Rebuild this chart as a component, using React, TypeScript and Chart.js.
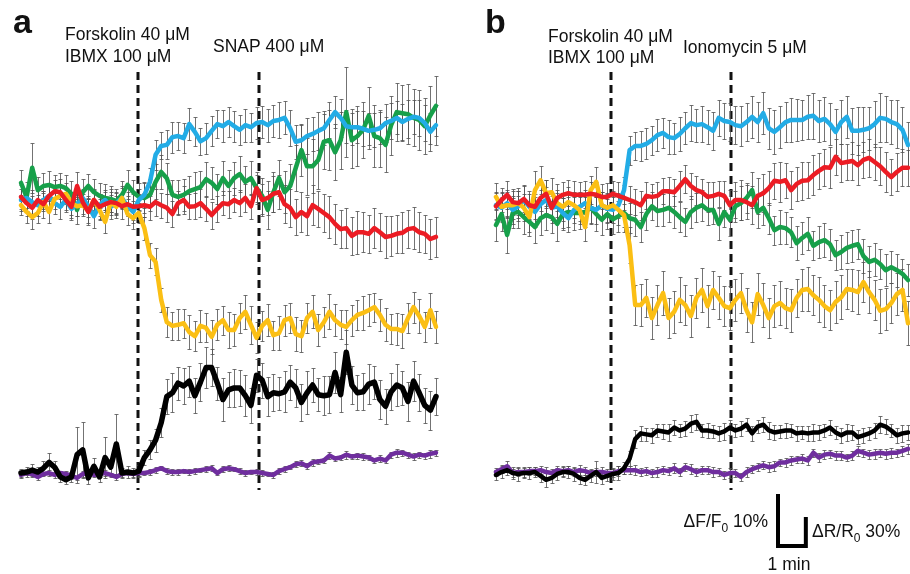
import React, { useEffect, useRef } from "react";
import { Chart, registerables } from "chart.js";

Chart.register(...registerables);

// ---------- time axis (minutes, one frame every 12 s) ----------
const timeMin = [0,0.2,0.4,0.6,0.8,1,1.2,1.4,1.6,1.8,2,2.2,2.4,2.6,2.8,3,3.2,3.4,3.6,3.8,4,4.2,4.4,4.6,4.8,5,5.2,5.4,5.6,5.8,6,6.2,6.4,6.6,6.8,7,7.2,7.4,7.6,7.8,8,8.2,8.4,8.6,8.8,9,9.2,9.4,9.6,9.8,10,10.2,10.4,10.6,10.8,11,11.2,11.4,11.6,11.8,12,12.2,12.4,12.6,12.8,13,13.2,13.4,13.6,13.8,14,14.2,14.4,14.6,14.8];

// stimulus times (min)
const stimA = [4.17, 8.49];
const stimB = [4.13, 8.44];

// ---------- Panel a : ΔF/F0 (%) ----------
const blueA = [0,0.4,-0.4,-1.0,0,0.8,-0.6,-1.3,0,-1.7,-0.8,0.4,-1.2,-3.1,-1.0,0,-1.3,-0.6,0.4,-1.2,-2.3,0,1.0,3.5,8.7,10.4,10.6,12.1,12.3,11.9,14.6,13.1,11.3,11.9,13.3,14.6,14.2,15.0,14.2,13.5,14.4,14.0,14.8,15.0,14.4,15.2,15.4,15.8,13.8,11.2,11.5,12.3,12.7,13.3,13.8,15.4,16.9,15.8,14.2,14.0,14.0,13.7,13.3,13.5,13.8,14.8,15.2,15.8,15.0,15.6,16.0,15.8,14.8,13.1,14.4];
const blueErrA = [2.1,1.9,2.3,2.0,1.8,2.2,2.0,2.4,1.9,2.1,2.3,1.8,2.0,2.2,2.1,1.9,2.3,2.0,2.2,1.9,2.1,2.2,2.5,2.7,2.9,2.6,2.8,3.0,2.7,2.9,3.1,2.8,2.6,3.0,2.9,2.7,3.1,2.8,3.0,2.9,3.2,2.8,3.0,3.0,3.2,3.1,3.4,3.2,3.5,3.3,3.0,3.4,3.2,3.6,3.3,3.4,3.1,3.6,3.2,3.5,3.1,3.4,3.5,3.3,3.1,3.6,3.4,3.2,3.5,3.7,3.3,3.5,3.4,3.6,3.8];

const greenA = [3.3,0.6,6.2,1.9,2.7,2.9,2.5,2.7,2.3,1.2,-1.9,1.5,2.7,1.5,0.8,0.4,0.2,-0.2,1.0,2.9,1.5,0.6,0.4,1.0,3.5,5.4,4.2,1.0,0.6,1.0,1.7,2.1,2.5,4.0,3.3,2.1,4.2,2.7,4.2,5.0,3.5,4.2,2.3,0.8,-1.9,1.5,4.2,1.5,2.7,6.2,9.6,6.5,6.5,7.7,11.2,11.5,9.2,11.5,16.9,11.5,12.3,13.5,16.2,12.3,11.9,10.6,14.4,16.9,16.7,16.5,15.8,15.4,14.2,16.3,18.1];
const greenErrA = [2.5,2.8,4.8,2.6,2.4,2.7,2.3,2.5,2.6,2.4,2.8,2.5,2.3,2.6,2.4,2.7,2.5,2.3,2.6,2.8,2.4,2.6,2.9,3.1,3.4,3.2,3.0,2.8,3.3,3.1,2.9,3.2,3.0,3.4,3.1,2.9,3.3,3.0,3.2,3.5,3.1,3.3,3.0,3.4,3.6,3.8,3.5,4.0,4.2,4.4,5.0,5.5,5.2,5.6,5.3,5.8,5.4,5.5,8.6,5.3,5.7,5.4,5.6,5.9,5.5,5.3,5.7,5.6,5.4,5.8,5.5,5.7,5.4,5.6,5.8];

const redA = [0.6,-0.6,-1.5,0,-0.8,0.8,1.7,1.5,0,-1.3,2.7,-0.4,-2.3,0,-1.3,-0.8,-0.4,-0.6,-1.2,-0.8,-1.3,-1.2,-1.0,-1.3,-0.4,-1.0,-1.5,-2.7,-0.6,0,-1.3,-1.2,-0.6,-1.7,-2.9,-1.7,-0.6,-0.8,0,-0.6,0.4,-1.2,2.3,0,0.4,1.2,1.5,-0.8,-1.5,-3.3,-2.3,-3.1,-1.0,-1.7,-2.5,-3.3,-4.6,-5.6,-5.4,-6.9,-6.2,-6.2,-6.5,-5.4,-6.2,-7.1,-6.9,-6.5,-6.3,-5.6,-5.4,-6.2,-6.5,-7.5,-7.1];
const redErrA = [2.3,2.5,2.2,2.4,2.6,2.3,2.1,2.5,2.4,2.2,2.6,2.3,2.5,2.2,2.4,2.3,2.5,2.2,2.4,2.3,2.5,2.4,2.3,2.5,2.6,2.4,2.7,2.5,2.3,2.6,2.4,2.5,2.7,2.4,2.6,2.5,2.3,2.6,2.4,2.5,2.7,2.4,2.6,3.1,3.3,3.5,3.3,3.6,3.7,3.4,3.8,3.6,3.9,3.5,3.7,4.0,3.8,3.6,3.9,3.7,4.1,3.8,3.6,3.9,3.7,4.0,3.8,3.6,3.9,3.7,4.0,3.8,3.7,3.9,3.8];

const yellowA = [-1.0,-2.3,-3.3,-2.5,-0.4,-2.3,0.2,0.8,1.2,-0.6,-1.2,-1.0,-2.1,0,-1.9,-4.2,-0.4,-1.3,0.4,-2.7,-3.5,-2.5,-5.4,-10.6,-11.9,-19.2,-23.5,-24.2,-24.0,-23.7,-25.4,-26.2,-24.2,-24.6,-26.3,-24.0,-23.1,-25.0,-25.0,-22.7,-21.5,-24.0,-26.5,-24.2,-23.1,-26.0,-25.6,-23.1,-22.7,-25.8,-26.2,-22.7,-21.5,-25.0,-23.5,-21.5,-23.1,-24.0,-24.4,-23.1,-22.1,-21.7,-21.2,-20.6,-22.1,-24.0,-24.8,-24.8,-25.2,-22.7,-20.6,-22.3,-24.4,-21.2,-24.4];
const yellowErrA = [1.9,2.1,2.3,2.0,1.8,2.2,1.9,2.1,2.0,2.2,1.8,2.1,2.3,1.9,2.0,2.2,1.9,2.1,2.0,2.2,2.0,2.0,2.2,2.4,2.6,2.3,2.9,2.7,3.0,2.8,3.2,2.9,3.1,2.8,3.3,3.0,2.8,3.4,3.1,2.9,3.3,3.6,3.0,2.9,3.1,2.8,3.2,3.0,2.9,3.3,3.1,2.8,3.2,3.0,2.9,3.4,3.1,2.8,3.2,3.0,2.9,3.3,3.1,2.8,3.0,3.2,2.9,3.1,3.3,2.8,3.0,3.2,2.9,3.4,3.1];

// ---------- Panel a : ΔR/R0 (%) ----------
const blackA = [1,2,4,2,6,12,7,-3,-6,-3,20,25,-4,8,-3,17,7,31,1,2,1,3,17,25,35,53,80,84,94,91,96,81,95,110,110,94,77,87,89,89,81,71,102,97,80,84,83,85,95,89,74,84,92,82,81,82,105,82,126,92,84,85,93,95,77,70,85,92,89,75,96,84,71,66,80];
const blackErrA = [4,5,6,5,7,10,6,5,4,5,29,29,6,9,5,21,8,31,5,6,5,6,8,10,12,15,18,20,17,19,16,18,20,21,19,17,22,18,20,19,21,18,17,18,20,19,17,21,18,20,19,22,18,17,20,19,21,18,23,20,18,19,21,17,20,18,19,22,18,20,21,19,18,20,19];

const purpleA = [-1,1,0,-3,0,1,-1,1,0,-2,-4,0,1,-1,0,1,-1,-3,0,1,0,1,1,2,4,6,3,2,2,3,2,3,4,5,6,1,5,6,5,3,1,2,2,1,0,-1,3,5,7,10,11,8,12,13,14,19,16,17,20,18,19,18,17,14,16,14,20,22,22,20,18,20,19,21,22];
const purpleErrA = [3,2,3,3,2,3,3,2,3,3,2,3,3,2,3,3,2,3,3,2,3,3,2,3,3,2,3,3,3,2,3,3,2,3,3,2,3,3,2,3,3,2,3,3,2,3,3,3,2,3,3,3,4,3,3,4,3,3,4,3,3,4,3,3,4,3,3,4,3,3,4,3,3,4,3];

// ---------- Panel b : ΔF/F0 (%) ----------
const blueB = [-1.0,-1.5,-0.6,-1.9,-1.2,0,-1.3,-2.3,-0.8,0,-1.5,-1.2,-2.5,-3.5,-1.9,-1.3,-0.6,-1.5,-1.9,-1.0,-1.7,-1.9,-1.0,1.9,9.6,10.4,10.4,10.8,11.5,12.5,12.9,12.1,11.9,12.7,13.8,14.8,14.4,14.6,14.0,13.3,15.8,15.2,15.0,14.4,14.2,15.0,16.0,15.0,16.7,13.8,13.1,14.0,15.0,15.4,15.4,15.4,16.0,16.2,15.2,15.6,14.6,13.1,15.0,16.0,13.3,13.3,13.5,13.8,14.6,15.8,15.6,15.0,14.6,13.5,10.6];
const blueErrB = [2.6,2.8,2.5,2.7,2.9,2.6,2.4,2.8,2.7,2.5,2.9,2.6,2.8,2.7,2.5,2.8,2.6,2.9,2.7,2.5,2.8,2.5,2.4,2.6,2.8,2.7,2.9,3.0,2.8,3.1,2.9,3.2,3.0,3.3,3.1,3.4,3.2,3.5,3.3,3.6,3.4,3.5,3.6,3.7,3.9,3.6,4.0,3.8,4.1,3.9,4.2,4.0,3.8,4.3,4.1,3.9,4.2,4.4,4.0,4.3,4.1,4.5,4.2,4.0,4.4,4.6,4.3,4.1,4.5,4.7,4.4,4.2,4.6,4.3,4.5];

const redB = [-1.2,0,1.0,-0.4,-0.6,0.2,-1.0,-1.3,0.4,1.2,-1.5,0.4,1.0,1.3,1.0,1.0,1.0,1.2,1.0,0.6,0.6,1.2,0.8,0.4,0,-0.4,-1.0,0.8,0.6,0.8,1.7,1.7,1.5,2.7,4.0,2.7,1.9,1.5,0.6,0.8,1.2,0.8,-1.0,0,0,-0.4,-1.0,0.8,1.3,2.3,3.7,3.5,3.8,1.9,3.1,3.7,3.8,4.8,5.6,6.3,6.2,8.3,7.1,7.3,7.5,6.7,7.7,8.1,7.3,6.5,5.4,4.4,5.4,6.2,6.2];
const redErrB = [2.6,2.4,2.7,2.5,2.3,2.6,2.8,2.4,2.5,2.7,2.3,2.6,2.4,2.5,2.7,2.4,2.6,2.3,2.5,2.4,2.6,2.5,2.6,2.4,2.7,2.5,2.8,2.6,2.4,2.7,2.5,2.8,2.6,2.9,2.7,2.5,2.8,2.6,2.9,2.7,2.5,2.8,3.0,3.4,3.8,3.2,3.6,3.4,3.7,3.3,3.5,3.8,3.4,3.6,3.3,3.7,3.5,3.8,3.4,3.6,3.9,3.5,3.7,3.4,3.6,3.8,3.5,3.7,3.4,3.6,3.8,3.5,3.7,3.6,3.5];

const greenB = [-4.8,-2.7,-6.7,-2.5,-2.3,-3.3,-4.2,-5.2,-3.5,-2.9,-3.3,-4.6,-2.7,-2.3,-2.5,-2.5,-2.3,-1.5,-2.7,-3.8,-2.7,-3.7,-3.1,-2.5,-3.5,-3.8,-5.2,-2.7,-1.2,-2.1,-1.9,-1.5,-2.3,-3.3,-4.2,-2.3,-1.5,-1.0,-1.9,-1.9,-4.6,-2.3,-3.8,-1.2,-0.6,0.4,1.9,-2.3,-1.5,-3.5,-5.8,-5.2,-5.4,-6.2,-8.3,-7.3,-6.5,-8.8,-8.1,-7.7,-8.5,-10.6,-10.0,-9.2,-8.8,-8.5,-10.8,-11.9,-11.5,-12.3,-13.5,-12.9,-13.5,-14.2,-15.4];
const greenErrB = [3.0,3.2,3.4,2.9,3.1,3.3,2.8,3.0,3.2,2.9,3.1,3.3,3.0,2.8,3.2,3.0,2.9,3.1,3.3,3.0,2.9,2.8,3.0,2.7,2.9,3.1,2.8,3.0,2.7,2.9,3.1,2.8,3.0,2.9,2.7,3.1,2.8,3.0,2.9,2.8,3.0,2.9,3.1,3.0,3.2,2.9,3.4,3.1,3.3,3.0,2.8,3.2,3.1,2.9,3.3,3.0,3.2,2.8,3.1,3.3,3.0,2.9,3.2,3.0,3.1,2.9,3.3,3.0,3.2,2.9,3.1,3.0,3.2,2.9,3.1];

const yellowB = [0.6,-1.3,-1.0,-1.0,-0.6,-1.5,-3.3,1.9,3.8,1.3,1.5,-0.6,-1.3,-0.4,-1.0,-1.9,-5.2,1.9,3.5,-1.0,-1.5,-1.0,-1.9,-2.9,-8.7,-20.2,-20.2,-18.8,-22.7,-20.2,-17.9,-22.7,-21.5,-19.2,-20.2,-22.3,-18.8,-17.3,-20.4,-17.3,-18.8,-20.4,-20.8,-19.2,-17.9,-21.2,-23.5,-18.1,-20.2,-22.7,-20.4,-19.8,-20.8,-21.2,-18.8,-17.3,-17.1,-18.3,-19.2,-20.4,-21.2,-19.6,-18.7,-17.1,-17.3,-17.7,-15.8,-17.7,-19.2,-21.3,-21.0,-19.8,-18.1,-17.3,-23.7];
const yellowErrB = [2.6,2.8,2.5,2.7,2.9,2.6,2.8,3.6,2.7,2.5,2.8,2.6,2.7,2.9,2.5,2.8,2.6,2.7,2.9,2.6,2.8,2.7,2.9,3.2,3.5,3.8,4.0,3.7,4.1,3.9,4.2,3.8,4.0,4.3,3.9,4.1,3.8,4.2,4.0,3.7,4.1,3.9,4.2,4.0,3.8,4.2,3.9,4.1,4.3,3.8,4.0,4.2,3.9,4.1,3.7,4.0,4.2,3.9,4.3,4.0,3.8,4.1,4.2,3.9,4.0,4.3,3.8,4.1,3.9,4.2,4.0,3.8,4.1,4.0,4.2];

// ---------- Panel b : ΔR/R0 (%) ----------
const blackB = [-1,2,4,1,0,1,1,2,-2,-6,-4,0,2,2,0,-4,-6,-2,2,-4,-2,0,1,6,16,36,42,41,40,45,44,43,48,45,47,52,54,45,45,44,42,44,48,45,47,51,42,49,51,45,43,44,45,45,42,43,42,43,43,45,48,43,40,43,43,38,40,42,45,51,49,45,40,42,43];
const blackErrB = [5,6,5,6,7,5,6,5,6,7,5,6,5,6,7,6,5,6,11,6,5,6,7,6,8,9,8,7,8,7,8,9,8,7,8,9,8,7,8,7,8,9,8,7,8,7,8,7,8,9,8,7,8,7,8,7,8,9,8,7,8,7,8,9,8,7,8,7,8,9,8,7,8,9,8];

const purpleB = [2,5,8,1,2,2,3,3,4,2,1,4,3,4,2,4,3,1,2,2,1,1,3,4,4,4,2,3,1,2,4,3,6,2,7,5,2,4,4,2,2,-1,1,1,-3,2,5,7,9,7,8,12,12,14,15,16,14,22,17,20,21,19,19,17,19,24,22,20,21,22,21,22,22,24,26];
const purpleErrB = [4,4,5,4,4,5,4,4,4,5,4,4,5,4,4,5,4,4,4,5,4,4,5,4,4,5,4,4,4,5,4,4,5,4,4,5,4,4,4,5,4,4,5,4,4,5,4,4,4,5,5,4,5,5,4,5,5,4,5,5,4,5,5,4,5,5,4,5,5,4,5,5,4,5,5];

// ---------- styling ----------
const FONT = "'Liberation Sans', Arial, Helvetica, sans-serif";
const COLORS = {
  red: "#EC1C24",
  yellow: "#FBBF14",
  blue: "#22ACE6",
  green: "#17A04A",
  black: "#000000",
  purple: "#6F2E9E",
};

type Series = {
  label: string;
  color: string;
  values: number[];
  errors: number[];
  axis: "yF" | "yR";
  width: number;
};

type Seg = { t: string; sub?: boolean };
type TextItem = { segs: Seg[]; x: number; y: number; align: "left" | "right" | "center"; size: number; bold?: boolean };

type PanelCfg = {
  left: number;
  padding: { left: number; right: number; top: number; bottom: number };
  stim: number[];
  series: Series[];
  texts: TextItem[];
  scaleBar?: { x: number; y: number; minutes: number; fPct: number; rPct: number };
};

const LABEL_SIZE = 17.5;

// draw order: first dataset ends up on top
const panelA: PanelCfg = {
  left: 0,
  padding: { left: 21, right: 19, top: 72, bottom: 84 },
  stim: stimA,
  series: [
    { label: "red", color: COLORS.red, values: redA, errors: redErrA, axis: "yF", width: 4.5 },
    { label: "yellow", color: COLORS.yellow, values: yellowA, errors: yellowErrA, axis: "yF", width: 4.5 },
    { label: "blue", color: COLORS.blue, values: blueA, errors: blueErrA, axis: "yF", width: 4.5 },
    { label: "green", color: COLORS.green, values: greenA, errors: greenErrA, axis: "yF", width: 4.5 },
    { label: "black", color: COLORS.black, values: blackA, errors: blackErrA, axis: "yR", width: 5.5 },
    { label: "purple", color: COLORS.purple, values: purpleA, errors: purpleErrA, axis: "yR", width: 4.5 },
  ],
  texts: [
    { segs: [{ t: "a" }], x: 13, y: 33, align: "left", size: 34, bold: true },
    { segs: [{ t: "Forskolin 40 \u03BCM" }], x: 65, y: 40, align: "left", size: LABEL_SIZE },
    { segs: [{ t: "IBMX 100 \u03BCM" }], x: 65, y: 62, align: "left", size: LABEL_SIZE },
    { segs: [{ t: "SNAP 400 \u03BCM" }], x: 213, y: 52, align: "left", size: LABEL_SIZE },
  ],
};

const panelB: PanelCfg = {
  left: 455,
  padding: { left: 41, right: 2, top: 72, bottom: 84 },
  stim: stimB,
  series: [
    { label: "red", color: COLORS.red, values: redB, errors: redErrB, axis: "yF", width: 4.5 },
    { label: "yellow", color: COLORS.yellow, values: yellowB, errors: yellowErrB, axis: "yF", width: 4.5 },
    { label: "blue", color: COLORS.blue, values: blueB, errors: blueErrB, axis: "yF", width: 4.5 },
    { label: "green", color: COLORS.green, values: greenB, errors: greenErrB, axis: "yF", width: 4.5 },
    { label: "black", color: COLORS.black, values: blackB, errors: blackErrB, axis: "yR", width: 4.5 },
    { label: "purple", color: COLORS.purple, values: purpleB, errors: purpleErrB, axis: "yR", width: 4.5 },
  ],
  texts: [
    { segs: [{ t: "b" }], x: 30, y: 33, align: "left", size: 34, bold: true },
    { segs: [{ t: "Forskolin 40 \u03BCM" }], x: 93, y: 42, align: "left", size: LABEL_SIZE },
    { segs: [{ t: "IBMX 100 \u03BCM" }], x: 93, y: 63, align: "left", size: LABEL_SIZE },
    { segs: [{ t: "Ionomycin 5 \u03BCM" }], x: 228, y: 53, align: "left", size: LABEL_SIZE },
    { segs: [{ t: "\u0394F/F" }, { t: "0", sub: true }, { t: " 10%" }], x: 313, y: 527, align: "right", size: LABEL_SIZE },
    { segs: [{ t: "\u0394R/R" }, { t: "0", sub: true }, { t: " 30%" }], x: 357, y: 537, align: "left", size: LABEL_SIZE },
    { segs: [{ t: "1 min" }], x: 334, y: 570, align: "center", size: LABEL_SIZE },
  ],
  scaleBar: { x: 323, y: 546, minutes: 1, fPct: 10, rPct: 30 },
};

function drawRich(ctx: CanvasRenderingContext2D, item: TextItem) {
  const weight = item.bold ? "bold " : "";
  const mainFont = `${weight}${item.size}px ${FONT}`;
  const subFont = `${weight}${Math.round(item.size * 0.68)}px ${FONT}`;
  let w = 0;
  for (const s of item.segs) {
    ctx.font = s.sub ? subFont : mainFont;
    w += ctx.measureText(s.t).width;
  }
  let cx = item.align === "left" ? item.x : item.align === "right" ? item.x - w : item.x - w / 2;
  ctx.textAlign = "left";
  ctx.textBaseline = "alphabetic";
  ctx.fillStyle = "#111";
  for (const s of item.segs) {
    ctx.font = s.sub ? subFont : mainFont;
    ctx.fillText(s.t, cx, s.sub ? item.y + item.size * 0.27 : item.y);
    cx += ctx.measureText(s.t).width;
  }
}

// y ranges: ΔF/F0 10% = 52 px, ΔR/R0 30% = 29 px over a 418 px tall plot area
const F_MIN = -55.77;
const F_MAX = 24.62;
const R_MIN = -16.55;
const R_MAX = 415.7;

function buildChart(canvas: HTMLCanvasElement, panel: PanelCfg) {
  const datasets = panel.series.map((s) => ({
    label: s.label,
    data: timeMin.map((t, i) => ({ x: t, y: s.values[i] })),
    borderColor: s.color,
    backgroundColor: s.color,
    borderWidth: s.width,
    pointRadius: 0,
    pointHoverRadius: 0,
    tension: 0,
    fill: false,
    yAxisID: s.axis,
    clip: false as any,
    borderJoinStyle: "round" as const,
    borderCapStyle: "round" as const,
  }));

  const decor = {
    id: "decor",
    beforeDatasetsDraw(chart: any) {
      const ctx: CanvasRenderingContext2D = chart.ctx;
      const { top, bottom } = chart.chartArea;
      const xs = chart.scales.x;
      ctx.save();
      // dashed stimulus lines
      ctx.strokeStyle = "#111";
      ctx.lineWidth = 3;
      ctx.setLineDash([8, 5]);
      for (const t of panel.stim) {
        const px = Math.round(xs.getPixelForValue(t));
        ctx.beginPath();
        ctx.moveTo(px, top);
        ctx.lineTo(px, bottom);
        ctx.stroke();
      }
      ctx.setLineDash([]);
      // error bars
      ctx.strokeStyle = "rgba(80,80,80,0.8)";
      ctx.lineWidth = 1;
      panel.series.forEach((s) => {
        const ys = chart.scales[s.axis];
        timeMin.forEach((t, i) => {
          const v = s.values[i];
          const e = s.errors[i] ?? 0;
          if (v === undefined) return;
          const px = Math.round(xs.getPixelForValue(t)) + 0.5;
          const yT = Math.round(ys.getPixelForValue(v + e)) + 0.5;
          const yB = Math.round(ys.getPixelForValue(v - e)) + 0.5;
          ctx.beginPath();
          ctx.moveTo(px, yT);
          ctx.lineTo(px, yB);
          ctx.moveTo(px - 2, yT);
          ctx.lineTo(px + 2, yT);
          ctx.moveTo(px - 2, yB);
          ctx.lineTo(px + 2, yB);
          ctx.stroke();
        });
      });
      ctx.restore();
    },
    afterDraw(chart: any) {
      const ctx: CanvasRenderingContext2D = chart.ctx;
      ctx.save();
      for (const item of panel.texts) drawRich(ctx, item);
      const sb = panel.scaleBar;
      if (sb) {
        const xs = chart.scales.x;
        const yF = chart.scales.yF;
        const yR = chart.scales.yR;
        const wMin = xs.getPixelForValue(sb.minutes) - xs.getPixelForValue(0);
        const hF = yF.getPixelForValue(0) - yF.getPixelForValue(sb.fPct);
        const hR = yR.getPixelForValue(0) - yR.getPixelForValue(sb.rPct);
        ctx.strokeStyle = "#000";
        ctx.lineWidth = 4;
        ctx.lineJoin = "miter";
        ctx.lineCap = "butt";
        ctx.beginPath();
        ctx.moveTo(sb.x, sb.y - hF);
        ctx.lineTo(sb.x, sb.y);
        ctx.lineTo(sb.x + wMin, sb.y);
        ctx.lineTo(sb.x + wMin, sb.y - hR);
        ctx.stroke();
      }
      ctx.restore();
    },
  };

  return new Chart(canvas, {
    type: "line",
    data: { datasets },
    options: {
      animation: false,
      responsive: false,
      maintainAspectRatio: false,
      devicePixelRatio: 1,
      events: [],
      layout: { padding: panel.padding },
      plugins: { legend: { display: false }, tooltip: { enabled: false } },
      scales: {
        x: { type: "linear", min: 0, max: 14.8, display: false },
        yF: { type: "linear", min: F_MIN, max: F_MAX, display: false },
        yR: { type: "linear", min: R_MIN, max: R_MAX, display: false },
      },
    } as any,
    plugins: [decor],
  });
}

export default function App() {
  const refA = useRef<HTMLCanvasElement>(null);
  const refB = useRef<HTMLCanvasElement>(null);

  useEffect(() => {
    const a = buildChart(refA.current!, panelA);
    const b = buildChart(refB.current!, panelB);
    return () => {
      a.destroy();
      b.destroy();
    };
  }, []);

  return (
    <div style={{ position: "absolute", left: 0, top: 0, width: 910, height: 574, background: "#fff" }}>
      <canvas ref={refA} width={455} height={574} style={{ position: "absolute", left: panelA.left, top: 0, width: 455, height: 574 }} />
      <canvas ref={refB} width={455} height={574} style={{ position: "absolute", left: panelB.left, top: 0, width: 455, height: 574 }} />
    </div>
  );
}
